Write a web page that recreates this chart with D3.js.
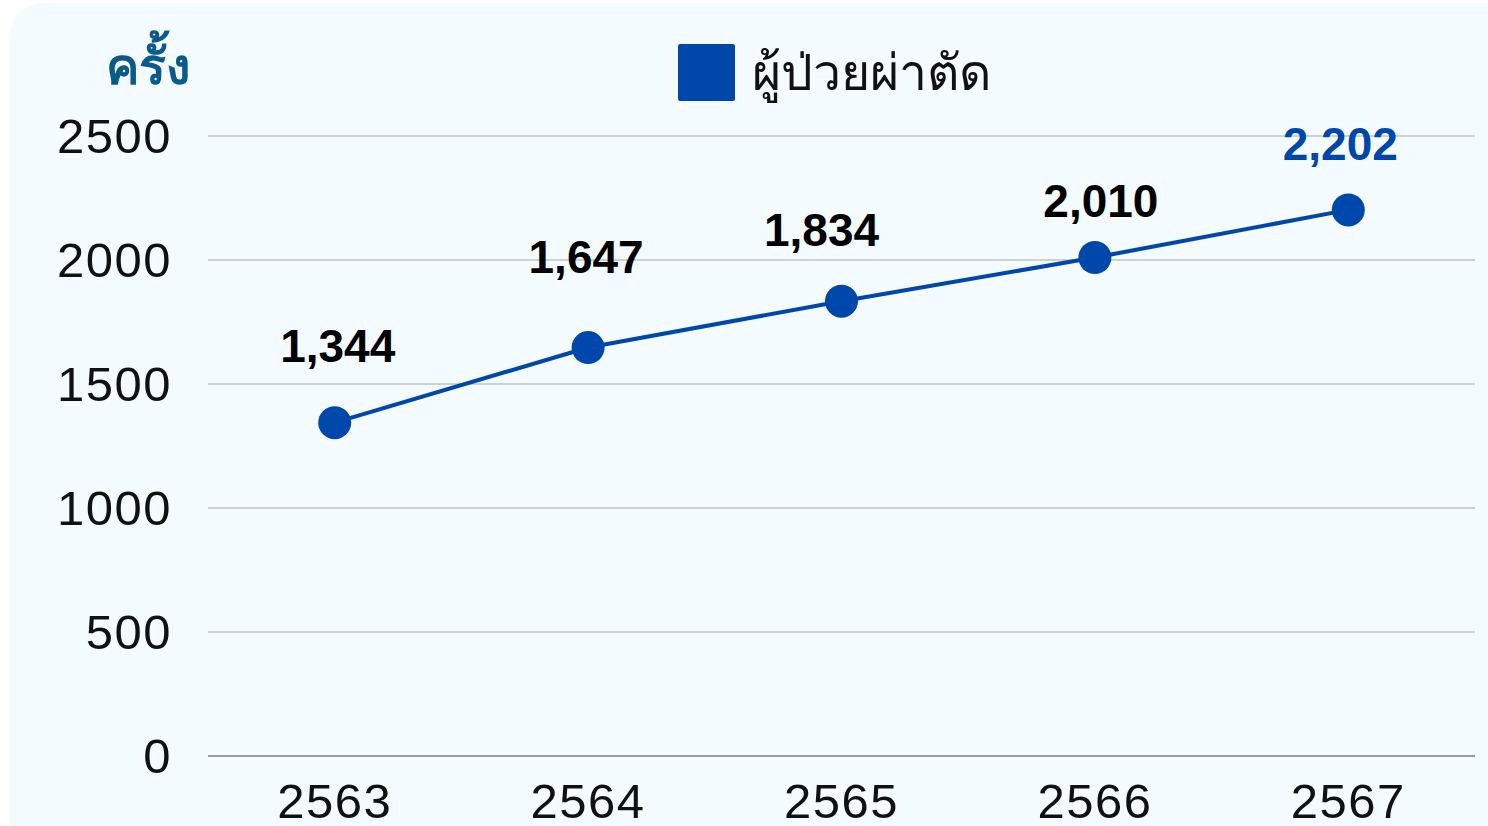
<!DOCTYPE html>
<html>
<head>
<meta charset="utf-8">
<script src="https://cdn.jsdelivr.net/npm/d3@7.9.0/dist/d3.min.js"></script>
<style>
  html, body { margin: 0; padding: 0; background: #ffffff; }
  svg { display: block; font-family: "Liberation Sans", Arial, sans-serif; }
</style>
</head>
<body>
<svg id="chart" width="1488" height="826"></svg>
<script>
const years = ['2563', '2564', '2565', '2566', '2567'];
const patients = [1344, 1647, 1834, 2010, 2202];
const yTicks = [0, 500, 1000, 1500, 2000, 2500];
const seriesName = 'ผู้ป่วยผ่าตัด';
const yUnit = 'ครั้ง';
// label nudges (dx, dy above the point)
const labelDx = [3, -2, -20, 6, -8];
const labelDy = [61, 75, 55, 41, 50];

const blue = '#0047ab';
const svg = d3.select('#chart');

// card background
svg.append('rect')
  .attr('x', 10).attr('y', 3)
  .attr('width', 1510).attr('height', 850)
  .attr('rx', 32)
  .attr('fill', '#f4fbfe');

const plotLeft = 208, plotRight = 1475, plotTop = 136, plotBottom = 756;

const x = d3.scaleBand().domain(years).range([plotLeft, plotRight]);
const y = d3.scaleLinear().domain([0, 2500]).range([plotBottom, plotTop]);

// gridlines
svg.append('g')
  .selectAll('line')
  .data(yTicks)
  .join('line')
  .attr('x1', plotLeft).attr('x2', plotRight)
  .attr('y1', d => y(d)).attr('y2', d => y(d))
  .attr('stroke', d => d === 0 ? '#7d7d7d' : '#bfc3c5')
  .attr('stroke-width', d => d === 0 ? 1.5 : 1.3);

// y tick labels
svg.append('g')
  .selectAll('text')
  .data(yTicks)
  .join('text')
  .attr('x', 172)
  .attr('y', d => y(d) + 17)
  .attr('text-anchor', 'end')
  .attr('font-size', 49)
  .attr('letter-spacing', 1.5)
  .attr('fill', '#111')
  .text(d => d);

// x tick labels
svg.append('g')
  .selectAll('text')
  .data(years)
  .join('text')
  .attr('x', d => x(d) + x.bandwidth() / 2)
  .attr('y', 818)
  .attr('text-anchor', 'middle')
  .attr('font-size', 49)
  .attr('letter-spacing', 1.5)
  .attr('fill', '#111')
  .text(d => d);

// unit label
svg.append('text')
  .attr('x', 148).attr('y', 84)
  .attr('text-anchor', 'middle')
  .attr('font-size', 50)
  .attr('font-weight', 'bold')
  .attr('fill', '#0b5a8c')
  .text(yUnit);

// legend
svg.append('rect')
  .attr('x', 678).attr('y', 44)
  .attr('width', 57).attr('height', 57)
  .attr('rx', 2)
  .attr('fill', blue);
svg.append('text')
  .attr('x', 752).attr('y', 90)
  .attr('font-size', 50)
  .attr('fill', '#111')
  .text(seriesName);

const pts = years.map((yr, i) => ({ year: yr, value: patients[i], i }));
const cx = d => x(d.year) + x.bandwidth() / 2;

svg.append('path')
  .datum(pts)
  .attr('fill', 'none')
  .attr('stroke', blue)
  .attr('stroke-width', 4)
  .attr('d', d3.line().x(cx).y(d => y(d.value)));

svg.append('g')
  .selectAll('circle')
  .data(pts)
  .join('circle')
  .attr('cx', cx)
  .attr('cy', d => y(d.value))
  .attr('r', 16.5)
  .attr('fill', blue);

svg.append('g')
  .selectAll('text')
  .data(pts)
  .join('text')
  .attr('x', d => cx(d) + labelDx[d.i])
  .attr('y', d => y(d.value) - labelDy[d.i])
  .attr('text-anchor', 'middle')
  .attr('font-size', 46)
  .attr('font-weight', 'bold')
  .attr('fill', (d, i) => i === pts.length - 1 ? blue : '#000')
  .text(d => d3.format(',')(d.value));
</script>
</body>
</html>
